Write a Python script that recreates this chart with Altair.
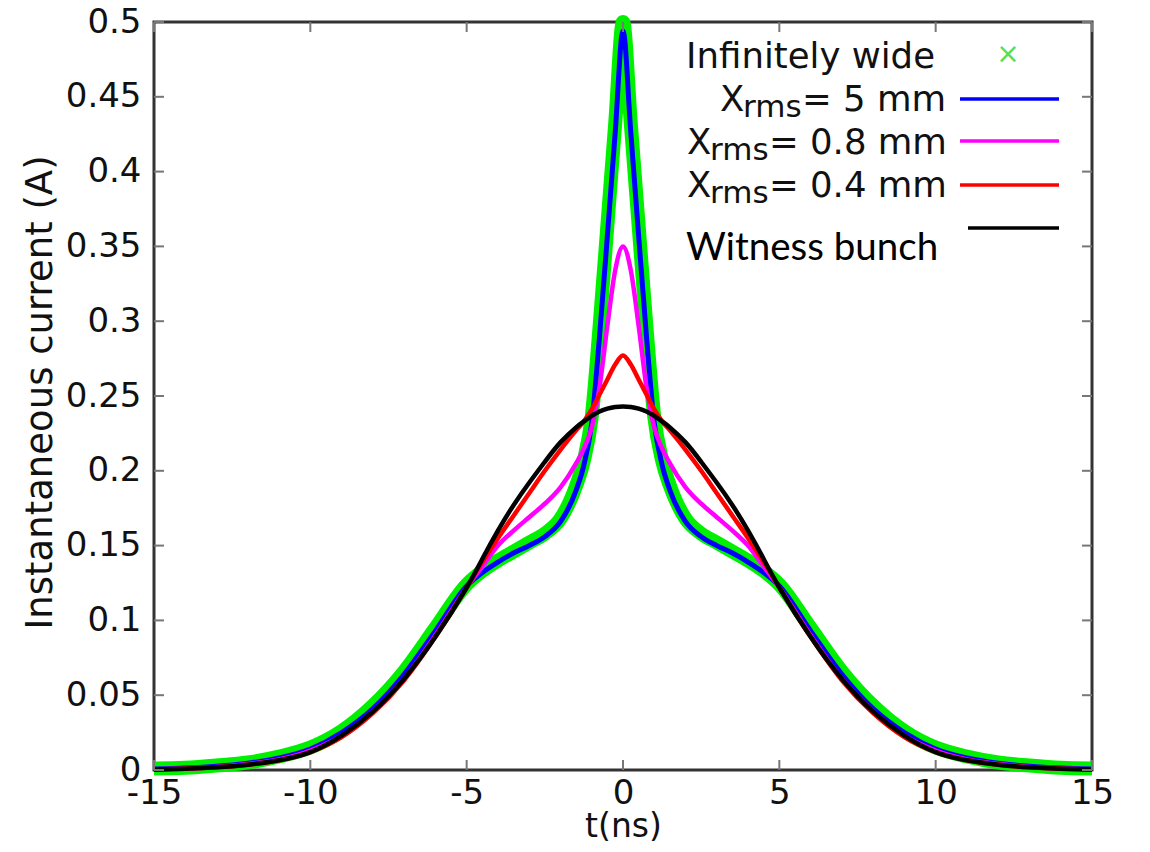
import altair as alt
import pandas as pd

# time axis (ns)
t = [-15, -14, -13, -12, -11, -10, -9, -8, -7, -6, -5, -4.5, -4, -3.5, -3, -2.5, -2, -1.5, -1.25, -1, -0.75, -0.5, -0.25,
     0,
     0.25, 0.5, 0.75, 1, 1.25, 1.5, 2, 2.5, 3, 3.5, 4, 4.5, 5, 6, 7, 8, 9, 10, 11, 12, 13, 14, 15]

infinitely_wide = [0.001, 0.0015, 0.003, 0.005, 0.009, 0.015, 0.026, 0.043, 0.066, 0.095, 0.124, 0.133, 0.140, 0.146, 0.152, 0.158, 0.168, 0.190, 0.207, 0.236, 0.296, 0.364, 0.432,
                   0.500,
                   0.432, 0.364, 0.296, 0.236, 0.207, 0.190, 0.168, 0.158, 0.152, 0.146, 0.140, 0.133, 0.124, 0.095, 0.066, 0.043, 0.026, 0.015, 0.009, 0.005, 0.003, 0.0015, 0.001]

xrms_5 = [0.0007, 0.0013, 0.0025, 0.0045, 0.008, 0.014, 0.025, 0.041, 0.064, 0.093, 0.123, 0.132, 0.139, 0.145, 0.150, 0.156, 0.166, 0.187, 0.204, 0.232, 0.290, 0.357, 0.426,
          0.494,
          0.426, 0.357, 0.290, 0.232, 0.204, 0.187, 0.166, 0.156, 0.150, 0.145, 0.139, 0.132, 0.123, 0.093, 0.064, 0.041, 0.025, 0.014, 0.008, 0.0045, 0.0025, 0.0013, 0.0007]

xrms_08 = [0.0005, 0.001, 0.002, 0.004, 0.007, 0.013, 0.023, 0.039, 0.061, 0.090, 0.122, 0.136, 0.150, 0.160, 0.169, 0.178, 0.189, 0.205, 0.215, 0.229, 0.256, 0.297, 0.334,
           0.350,
           0.334, 0.297, 0.256, 0.229, 0.215, 0.205, 0.189, 0.178, 0.169, 0.160, 0.150, 0.136, 0.122, 0.090, 0.061, 0.039, 0.023, 0.013, 0.007, 0.004, 0.002, 0.001, 0.0005]

xrms_04 = [0.0004, 0.0009, 0.0018, 0.0035, 0.0065, 0.012, 0.022, 0.038, 0.060, 0.089, 0.122, 0.139, 0.155, 0.170, 0.185, 0.200, 0.214, 0.227, 0.233, 0.241, 0.251, 0.261, 0.271,
           0.277,
           0.271, 0.261, 0.251, 0.241, 0.233, 0.227, 0.214, 0.200, 0.185, 0.170, 0.155, 0.139, 0.122, 0.089, 0.060, 0.038, 0.022, 0.012, 0.0065, 0.0035, 0.0018, 0.0009, 0.0004]

witness = [0.0004, 0.0009, 0.0018, 0.0035, 0.0065, 0.012, 0.023, 0.039, 0.061, 0.089, 0.122, 0.141, 0.160, 0.177, 0.192, 0.206, 0.219, 0.2290, 0.2330, 0.2367, 0.2396, 0.2416, 0.2427,
           0.243,
           0.2427, 0.2416, 0.2396, 0.2367, 0.2330, 0.2290, 0.219, 0.206, 0.192, 0.177, 0.160, 0.141, 0.122, 0.089, 0.061, 0.039, 0.023, 0.012, 0.0065, 0.0035, 0.0018, 0.0009, 0.0004]

x_ticks = [-15, -10, -5, 0, 5, 10, 15]
y_ticks = [0, 0.05, 0.1, 0.15, 0.2, 0.25, 0.3, 0.35, 0.4, 0.45, 0.5]

W, H = 938, 748
FONT = "DejaVu Sans"

xscale = alt.Scale(domain=[-15, 15], nice=False, zero=False)
yscale = alt.Scale(domain=[0, 0.5], nice=False, zero=False)

xaxis = alt.Axis(values=x_ticks, labelExpr="'' + datum.value", title="t(ns)",
                 titleX=469, titleY=66, titleBaseline="alphabetic", labelPadding=6,
                 titleFontSize=33)
yaxis = alt.Axis(values=y_ticks, format=".2~f", title="Instantaneous current (A)",
                 titleX=-103, titleY=370, titleBaseline="alphabetic", titleAngle=-90,
                 labelPadding=13, titleFontSize=37)


def series_df(values):
    return pd.DataFrame({"t": t, "I": values})


def line(values, color, width, interp="monotone"):
    return alt.Chart(series_df(values)).mark_line(
        color=color, strokeWidth=width, interpolate=interp, strokeJoin="round"
    ).encode(x=alt.X("t:Q", scale=xscale, axis=xaxis),
             y=alt.Y("I:Q", scale=yscale, axis=yaxis))


layers = [
    line(infinitely_wide, "#00f000", 14),
    line(xrms_5, "#0000ff", 5),
    line(xrms_08, "#ff00ff", 4.5),
    line(xrms_04, "#ff0000", 4.5),
    line(witness, "#000000", 4.5, interp="natural"),
]

# inward ticks on all four sides
xt = pd.DataFrame({"t": x_ticks})
yt = pd.DataFrame({"I": y_ticks})
tick_style = dict(color="#777", strokeWidth=2)
layers += [
    alt.Chart(xt).mark_rule(**tick_style).encode(x=alt.X("t:Q", scale=xscale, axis=xaxis), y=alt.value(H), y2=alt.value(H - 10)),
    alt.Chart(xt).mark_rule(**tick_style).encode(x=alt.X("t:Q", scale=xscale, axis=xaxis), y=alt.value(0), y2=alt.value(10)),
    alt.Chart(yt).mark_rule(**tick_style).encode(y=alt.Y("I:Q", scale=yscale, axis=yaxis), x=alt.value(0), x2=alt.value(10)),
    alt.Chart(yt).mark_rule(**tick_style).encode(y=alt.Y("I:Q", scale=yscale, axis=yaxis), x=alt.value(W), x2=alt.value(W - 10)),
]

one = alt.Data(values=[{"k": 1}])


def txt(s, x, y, size=35.5, align="left", color="#111", font=FONT, baseline="alphabetic"):
    return alt.Chart(one).mark_text(text=s, align=align, baseline=baseline, font=font,
                                    fontSize=size, color=color).encode(
        x=alt.value(x), y=alt.value(y))


def key(color, x1, x2, y):
    return alt.Chart(one).mark_rule(color=color, strokeWidth=3.5).encode(
        x=alt.value(x1), x2=alt.value(x2), y=alt.value(y))


legend = [
    txt("Infinitely wide", 781, 46, align="right"),
    txt("×", 854, 33, size=28, align="center", color="#55e055", baseline="middle"),
    txt("X", 566, 89), txt("rms", 589, 95, size=31), txt("= 5 mm", 648, 89),
    key("#0000ff", 806, 905, 77),
    txt("X", 533, 132), txt("rms", 556, 138, size=31), txt("= 0.8 mm", 615, 132),
    key("#ff00ff", 806, 905, 119),
    txt("X", 533, 175), txt("rms", 556, 181, size=31), txt("= 0.4 mm", 615, 175),
    key("#ff0000", 806, 905, 163),
    key("#000000", 814, 905, 206),
    txt("Witness bunch", 532, 238, size=38.5, font="Lato", color="#000"),
]

chart = alt.layer(*layers, *legend).properties(
    width=W, height=H,
    autosize=alt.AutoSizeParams(type="none"),
    padding={"left": 146, "top": 14, "right": 40, "bottom": 74},
).configure_view(
    stroke="#333", strokeWidth=3
).configure_axis(
    ticks=False, domain=False, grid=False, labelFlush=False, labelOverlap=False,
    labelFont=FONT, labelFontSize=34, labelColor="#111",
    titleFont=FONT, titleFontWeight="normal", titleColor="#111",
)

chart.save("out.html", embed_options={"renderer": "svg", "actions": False})
